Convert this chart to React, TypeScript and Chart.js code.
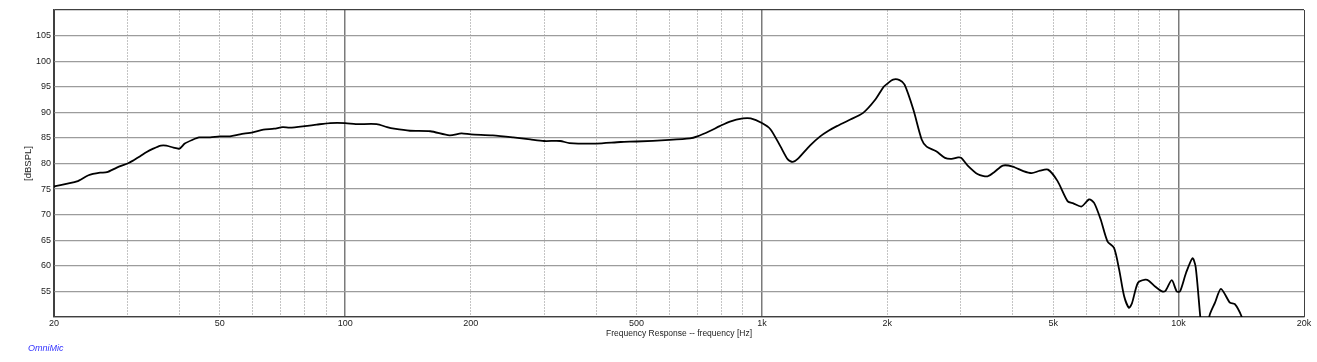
import React, { useEffect, useRef } from "react";
import { Chart, registerables } from "chart.js";

Chart.register(...registerables);

const freqs: number[] = [
  20, 22.7, 24.2, 25.8, 26.8, 28.3, 30.2, 31, 32.2, 33.3, 34.6, 36.1, 37.2, 38.7, 40, 41.2, 42.9, 44.6, 47.4, 50,
  52.9, 55.9, 60, 63.6, 67.5, 70.8, 73.6, 80, 85.4, 92, 100, 106, 119, 126, 131, 143, 160, 178, 190, 200,
  226, 253, 278, 300, 328, 345, 400, 458, 500, 600, 672, 700, 748, 792, 838, 900, 940, 1000, 1048, 1107,
  1154, 1186, 1219, 1304, 1380, 1445, 1513, 1612, 1750, 1872, 1960, 2000, 2064, 2140, 2200, 2310, 2418, 2485, 2620, 2750,
  2852, 2958, 3010, 3118, 3300, 3480, 3610, 3785, 4000, 4240, 4440, 4650, 4860, 5120, 5420, 5590, 5850, 6100, 6270, 6500,
  6750, 7000, 7200, 7400, 7600, 7730, 7990, 8320, 8480, 8800, 9130, 9300, 9630, 9900, 10080, 10420, 10800, 10990, 11270, 11550,
  11860, 12230, 12640, 13280, 13650, 14150, 14400,
];

const spl: number[] = [
  75.5, 76.5, 77.7, 78.2, 78.3, 79.2, 80.1, 80.6, 81.4, 82.2, 82.9, 83.5, 83.5, 83.1, 82.9, 83.9, 84.6, 85.1, 85.1, 85.3,
  85.3, 85.7, 86.1, 86.6, 86.8, 87.1, 87.0, 87.3, 87.6, 87.9, 87.9, 87.7, 87.7, 87.1, 86.8, 86.4, 86.3, 85.5, 85.9, 85.7,
  85.5, 85.1, 84.7, 84.4, 84.4, 84.0, 83.9, 84.2, 84.3, 84.6, 84.9, 85.3, 86.3, 87.3, 88.2, 88.8, 88.8, 87.9, 86.7, 83.4,
  80.8, 80.3, 80.9, 83.5, 85.3, 86.4, 87.3, 88.4, 89.9, 92.5, 95.0, 95.6, 96.4, 96.3, 95.4, 90.5, 84.7, 83.3, 82.4, 81.1,
  80.9, 81.2, 81.1, 79.6, 77.9, 77.5, 78.3, 79.6, 79.4, 78.5, 78.1, 78.6, 78.8, 76.6, 72.6, 72.2, 71.6, 73.0, 72.3, 69.1,
  64.8, 63.5, 59.3, 54.1, 51.8, 52.7, 56.7, 57.3, 57.1, 55.9, 55.0, 55.1, 57.2, 55.0, 55.0, 58.6, 61.5, 59.8, 50.2, 42,
  50.2, 52.8, 55.5, 52.8, 52.5, 50.2, 48,
];

const gridFreqs: number[] = [
  20, 30, 40, 50, 60, 70, 80, 90, 100, 200, 300, 400, 500, 600, 700, 800, 900, 1000,
  2000, 3000, 4000, 5000, 6000, 7000, 8000, 9000, 10000, 20000,
];
const majorFreqs: number[] = [100, 1000, 10000];
const edgeFreqs: number[] = [20, 20000];
const labelFreqs: number[] = [20, 50, 100, 200, 500, 1000, 2000, 5000, 10000, 20000];
const labelTexts: string[] = ["20", "50", "100", "200", "500", "1k", "2k", "5k", "10k", "20k"];

const yMin = 50;
const yMax = 110;
const yStep = 5;

const xTitle = "Frequency Response -- frequency [Hz]";
const yTitle = "[dBSPL]";
const brand = "OmniMic";

const FONT = "'Liberation Sans', Arial, sans-serif";

export default function App() {
  const ref = useRef<HTMLCanvasElement | null>(null);

  useEffect(() => {
    document.body.style.margin = "0";
    if (!ref.current) return;
    const chart = new Chart(ref.current, {
      type: "line",
      data: {
        datasets: [
          {
            data: freqs.map((f, i) => ({ x: f, y: spl[i] })),
            borderColor: "#000000",
            borderWidth: 1.8,
            pointRadius: 0,
            tension: 0.25,
            fill: false,
          },
        ],
      },
      options: {
        animation: false,
        responsive: true,
        maintainAspectRatio: false,
        layout: { padding: { left: 23.5, right: 13, top: 10, bottom: 23.75 } },
        plugins: { legend: { display: false }, tooltip: { enabled: false } },
        scales: {
          x: {
            type: "logarithmic",
            min: 20,
            max: 20000,
            afterBuildTicks: (scale: any) => {
              scale.ticks = gridFreqs.map((v) => ({ value: v }));
            },
            afterFit: (scale: any) => {
              scale.height = 21.25;
            },
            ticks: {
              autoSkip: false,
              maxRotation: 0,
              minRotation: 0,
              padding: 1,
              color: "#222222",
              font: { family: FONT, size: 9 },
              callback: (value: any) => {
                const idx = labelFreqs.indexOf(Number(value));
                return idx >= 0 ? labelTexts[idx] : "";
              },
            },
            grid: {
              drawTicks: false,
              color: (ctx: any) => {
                const v = ctx.tick ? ctx.tick.value : null;
                if (v === null) return "#404040";
                if (edgeFreqs.includes(v)) return "#404040";
                if (majorFreqs.includes(v)) return "#7a7a7a";
                return "#c4c4c4";
              },
              lineWidth: (ctx: any) => {
                const v = ctx.tick ? ctx.tick.value : null;
                if (v !== null && majorFreqs.includes(v)) return 1.5;
                return 1;
              },
            },
            border: {
              display: true,
              color: "#404040",
              width: 1.2,
              dash: (ctx: any) => {
                const v = ctx.tick ? ctx.tick.value : null;
                if (v === null || v === undefined) return [];
                if (edgeFreqs.includes(v) || majorFreqs.includes(v)) return [];
                return [2, 1];
              },
            },
            title: {
              display: true,
              text: xTitle,
              color: "#222222",
              font: { family: FONT, size: 8.5, lineHeight: 1 },
              padding: 0,
            },
          },
          y: {
            type: "linear",
            min: yMin,
            max: yMax,
            afterFit: (scale: any) => {
              scale.width = 30.5;
            },
            ticks: {
              stepSize: yStep,
              padding: 3,
              color: "#222222",
              font: { family: FONT, size: 9 },
              callback: (value: any) => {
                const v = Number(value);
                return v === yMin || v === yMax ? "" : String(v);
              },
            },
            grid: {
              drawTicks: false,
              color: (ctx: any) => {
                const v = ctx.tick ? ctx.tick.value : null;
                if (v === yMin || v === yMax) return "#404040";
                return "#9c9c9c";
              },
              lineWidth: 1.2,
            },
            border: { display: true, color: "#404040", width: 1.2 },
            title: {
              display: true,
              text: yTitle,
              color: "#222222",
              font: { family: FONT, size: 9.5, lineHeight: 1 },
              padding: 0,
            },
          },
        },
      },
    });
    return () => chart.destroy();
  }, []);

  return (
    <div style={{ position: "absolute", left: 0, top: 0, width: 1317, height: 362, background: "#ffffff" }}>
      <canvas ref={ref} />
      <span
        style={{
          position: "absolute",
          left: 28,
          top: 344,
          fontFamily: FONT,
          fontStyle: "italic",
          fontSize: 9,
          lineHeight: "9px",
          color: "#3333ff",
          whiteSpace: "nowrap",
        }}
      >
        {brand}
      </span>
    </div>
  );
}
